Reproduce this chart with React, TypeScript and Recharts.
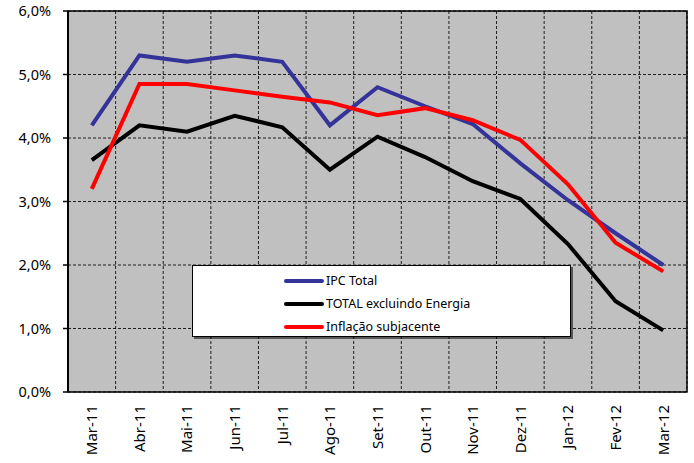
import {
  CartesianGrid,
  Legend,
  Line,
  LineChart,
  ReferenceArea,
  XAxis,
  YAxis
} from "recharts";

const months = [
  "Mar-11", "Abr-11", "Mai-11", "Jun-11", "Jul-11", "Ago-11", "Set-11",
  "Out-11", "Nov-11", "Dez-11", "Jan-12", "Fev-12", "Mar-12"
];
const ipcTotal = [4.2, 5.3, 5.2, 5.3, 5.2, 4.2, 4.8, 4.5, 4.22, 3.6, 3.02, 2.5, 2.0];
const totalExEnergia = [3.65, 4.2, 4.1, 4.35, 4.17, 3.5, 4.02, 3.7, 3.32, 3.04, 2.33, 1.43, 0.97];
const inflacaoSubjacente = [3.2, 4.85, 4.85, 4.75, 4.65, 4.56, 4.36, 4.47, 4.28, 3.97, 3.27, 2.35, 1.9];
const yTicks = [0, 1, 2, 3, 4, 5, 6];

const series = [
  { key: "ipc", name: "IPC Total", color: "#333399" },
  { key: "exEnergia", name: "TOTAL excluindo Energia", color: "#000000" },
  { key: "subjacente", name: "Inflação subjacente", color: "#ff0000" }
];

const data = months.map((month, i) => ({
  x: i + 0.5,
  month,
  ipc: ipcTotal[i],
  exEnergia: totalExEnergia[i],
  subjacente: inflacaoSubjacente[i]
}));

const boundaryTicks = months.map((_, i) => i).concat(months.length);
const centerTicks = months.map((_, i) => i + 0.5);

function formatPct(v: number) {
  return v.toFixed(1).replace(".", ",") + "%";
}

// keeps the tick lines (and the grid) while drawing no label
function EmptyTick() {
  return <g />;
}

function MonthTick({ x, y, payload }: any) {
  const label = months[Math.floor(payload.value)];
  return (
    <text
      x={x}
      y={y}
      transform={`rotate(-90 ${x} ${y})`}
      textAnchor="end"
      dy="0.36em"
      fill="#000"
      fontSize={15}
    >
      {label}
    </text>
  );
}

function LegendBox() {
  return (
    <div
      style={{
        width: 379,
        height: 72,
        boxSizing: "border-box",
        background: "#fff",
        border: "1px solid #000",
        boxShadow: "2px 2px 0 rgba(0,0,0,0.55)",
        paddingTop: 3
      }}
    >
      {series.map((s) => (
        <div key={s.key} style={{ display: "flex", alignItems: "center", height: 23 }}>
          <div
            style={{
              marginLeft: 91,
              width: 40,
              height: 4,
              borderRadius: 2,
              background: s.color
            }}
          />
          <span style={{ marginLeft: 2, fontSize: 12.5, color: "#000" }}>{s.name}</span>
        </div>
      ))}
    </div>
  );
}

export default function App() {
  return (
    <div
      style={{
        position: "absolute",
        left: 0,
        top: 0,
        width: 694,
        height: 463,
        background: "#fff",
        fontFamily: "'Noto Sans', sans-serif"
      }}
    >
      <LineChart width={694} height={463} data={data} margin={{ top: 11, right: 7, left: 0, bottom: 0 }}>
        <CartesianGrid
          xAxisId="grid"
          fill="#c0c0c0"
          fillOpacity={1}
          stroke="#000"
          strokeDasharray="3 2"
          strokeOpacity={0.85}
        />
        <XAxis
          xAxisId="grid"
          type="number"
          dataKey="x"
          domain={[0, 13]}
          ticks={boundaryTicks}
          tick={<EmptyTick />}
          interval={0}
          tickSize={6}
          height={0}
          axisLine={{ stroke: "#000", strokeWidth: 2 }}
          tickLine={{ stroke: "#000", strokeWidth: 1.5 }}
        />
        <XAxis
          xAxisId="lab"
          type="number"
          dataKey="x"
          domain={[0, 13]}
          ticks={centerTicks}
          tick={<MonthTick />}
          tickSize={0}
          tickMargin={13}
          height={71}
          axisLine={false}
          tickLine={false}
          interval={0}
        />
        <YAxis
          type="number"
          domain={[0, 6]}
          ticks={yTicks}
          tickFormatter={formatPct}
          width={68}
          tickSize={5}
          tickMargin={12}
          axisLine={{ stroke: "#000", strokeWidth: 2 }}
          tickLine={{ stroke: "#000", strokeWidth: 1.5 }}
          tick={{ fill: "#000", fontSize: 14.5 }}
        />
        <ReferenceArea
          xAxisId="grid"
          x1={0}
          x2={13}
          y1={0}
          y2={6}
          fill="none"
          stroke="#000"
          strokeWidth={1.5}
        />
        {series.map((s) => (
          <Line
            key={s.key}
            xAxisId="grid"
            type="linear"
            dataKey={s.key}
            name={s.name}
            stroke={s.color}
            strokeWidth={4}
            dot={false}
            isAnimationActive={false}
          />
        ))}
        <Legend
          layout="vertical"
          align="center"
          verticalAlign="middle"
          content={<LegendBox />}
          wrapperStyle={{ left: 192, top: 265, width: 379, height: 72 }}
        />
      </LineChart>
    </div>
  );
}
